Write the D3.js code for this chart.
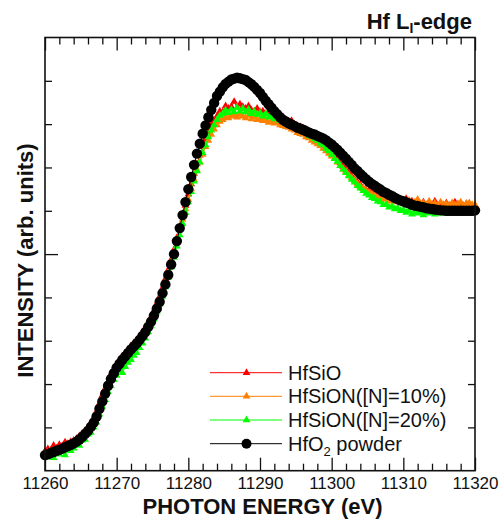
<!DOCTYPE html>
<html>
<head>
<meta charset="utf-8">
<script src="https://cdn.jsdelivr.net/npm/d3@7"></script>
<style>
  body { margin: 0; background: #fff; }
  svg { font-family: "Liberation Sans", Arial, sans-serif; }
</style>
</head>
<body>
<svg id="chart" width="502" height="521"></svg>
<script>
// scan energies (eV), 0.4 eV steps
const energy = [
  11260,11260.4,11260.8,11261.2,11261.6, 11262,11262.4,11262.8,11263.2,11263.6,
  11264,11264.4,11264.8,11265.2,11265.6, 11266,11266.4,11266.8,11267.2,11267.6,
  11268,11268.4,11268.8,11269.2,11269.6, 11270,11270.4,11270.8,11271.2,11271.6,
  11272,11272.4,11272.8,11273.2,11273.6, 11274,11274.4,11274.8,11275.2,11275.6,
  11276,11276.4,11276.8,11277.2,11277.6, 11278,11278.4,11278.8,11279.2,11279.6,
  11280,11280.4,11280.8,11281.2,11281.6, 11282,11282.4,11282.8,11283.2,11283.6,
  11284,11284.4,11284.8,11285.2,11285.6, 11286,11286.4,11286.8,11287.2,11287.6,
  11288,11288.4,11288.8,11289.2,11289.6, 11290,11290.4,11290.8,11291.2,11291.6,
  11292,11292.4,11292.8,11293.2,11293.6, 11294,11294.4,11294.8,11295.2,11295.6,
  11296,11296.4,11296.8,11297.2,11297.6, 11298,11298.4,11298.8,11299.2,11299.6,
  11300,11300.4,11300.8,11301.2,11301.6, 11302,11302.4,11302.8,11303.2,11303.6,
  11304,11304.4,11304.8,11305.2,11305.6, 11306,11306.4,11306.8,11307.2,11307.6,
  11308,11308.4,11308.8,11309.2,11309.6, 11310,11310.4,11310.8,11311.2,11311.6,
  11312,11312.4,11312.8,11313.2,11313.6, 11314,11314.4,11314.8,11315.2,11315.6,
  11316,11316.4,11316.8,11317.2,11317.6, 11318,11318.4,11318.8,11319.2,11319.6,
  11320
];

const hfsio = [
  0.45,0.50,0.47,0.58,0.52, 0.60,0.57,0.66,0.62,0.67,
  0.70,0.74,0.80,0.86,0.92, 1.00,1.10,1.22,1.36,1.55,
  1.74,1.90,2.06,2.22,2.34, 2.46,2.56,2.64,2.72,2.80,
  2.88,2.95,3.02,3.10,3.20, 3.30,3.42,3.55,3.70,3.86,
  4.02,4.22,4.43,4.64,4.87, 5.10,5.38,5.64,5.88,6.12,
  6.38,6.62,6.86,7.08,7.28, 7.48,7.66,7.82,7.98,8.08,
  8.18,8.30,8.28,8.42,8.36, 8.40,8.52,8.38,8.46,8.40,
  8.36,8.42,8.32,8.30,8.36, 8.28,8.30,8.24,8.26,8.22,
  8.20,8.24,8.16,8.14,8.10, 8.06,8.08,8.00,7.96,7.94,
  7.90,7.88,7.82,7.80,7.74, 7.70,7.66,7.58,7.54,7.46,
  7.36,7.28,7.20,7.10,7.02, 6.94,6.88,6.80,6.72,6.66,
  6.60,6.52,6.48,6.46,6.42, 6.40,6.34,6.36,6.30,6.28,
  6.26,6.30,6.22,6.24,6.20, 6.20,6.28,6.18,6.22,6.16,
  6.18,6.14,6.20,6.12,6.16, 6.14,6.22,6.12,6.16,6.10,
  6.18,6.12,6.14,6.20,6.12, 6.14,6.10,6.16,6.12,6.10,
  6.12
];

const hfsion10 = [
  0.38,0.42,0.40,0.46,0.48, 0.52,0.50,0.58,0.56,0.62,
  0.66,0.70,0.74,0.82,0.88, 0.96,1.06,1.18,1.32,1.50,
  1.68,1.86,2.02,2.18,2.30, 2.42,2.52,2.60,2.68,2.76,
  2.84,2.92,2.98,3.06,3.16, 3.26,3.38,3.50,3.64,3.80,
  3.96,4.16,4.36,4.58,4.82, 5.04,5.30,5.56,5.80,6.04,
  6.26,6.50,6.72,6.94,7.12, 7.30,7.48,7.62,7.76,7.88,
  7.98,8.06,8.10,8.16,8.14, 8.18,8.20,8.16,8.22,8.18,
  8.14,8.20,8.12,8.16,8.10, 8.12,8.08,8.10,8.04,8.06,
  8.02,8.04,7.98,7.96,7.94, 7.92,7.88,7.86,7.80,7.78,
  7.76,7.70,7.68,7.62,7.58, 7.54,7.50,7.44,7.38,7.32,
  7.26,7.20,7.12,7.04,6.96, 6.90,6.82,6.76,6.70,6.62,
  6.56,6.52,6.46,6.42,6.38, 6.36,6.32,6.30,6.26,6.28,
  6.22,6.26,6.20,6.24,6.18, 6.22,6.16,6.24,6.14,6.20,
  6.26,6.16,6.18,6.14,6.22, 6.14,6.18,6.12,6.20,6.14,
  6.16,6.12,6.18,6.14,6.16, 6.20,6.12,6.16,6.18,6.14,
  6.14
];

const hfsion20 = [
  0.40,0.34,0.44,0.30,0.42, 0.38,0.50,0.36,0.54,0.46,
  0.52,0.60,0.58,0.70,0.72, 0.84,0.88,1.00,1.12,1.30,
  1.48,1.64,1.82,1.96,2.10, 2.20,2.30,2.26,2.40,2.50,
  2.56,2.66,2.72,2.84,2.94, 3.06,3.20,3.34,3.50,3.66,
  3.84,4.02,4.24,4.46,4.70, 4.92,5.18,5.44,5.70,5.96,
  6.20,6.44,6.68,6.92,7.12, 7.34,7.52,7.70,7.86,7.98,
  8.10,8.20,8.24,8.32,8.26, 8.34,8.28,8.38,8.30,8.36,
  8.28,8.34,8.24,8.30,8.22, 8.26,8.18,8.24,8.16,8.20,
  8.12,8.16,8.08,8.10,8.02, 8.00,7.96,7.94,7.88,7.88,
  7.82,7.80,7.74,7.72,7.66, 7.62,7.56,7.52,7.44,7.38,
  7.30,7.20,7.14,7.04,6.96, 6.88,6.80,6.72,6.66,6.58,
  6.52,6.46,6.40,6.36,6.30, 6.28,6.22,6.20,6.14,6.14,
  6.08,6.10,6.04,6.06,6.00, 6.02,5.96,6.00,5.92,5.98,
  5.94,5.98,5.90,5.96,5.94, 5.98,5.92,5.96,5.94,5.98,
  5.94,5.98,5.96,6.00,5.96, 5.98,6.00,5.96,6.00,5.98,
  6.00
];

const hfo2 = [
  0.36,0.38,0.41,0.43,0.46, 0.48,0.51,0.54,0.57,0.60,
  0.63,0.67,0.72,0.78,0.85, 0.92,1.01,1.11,1.25,1.43,
  1.60,1.78,1.96,2.12,2.25, 2.38,2.47,2.56,2.64,2.72,
  2.80,2.87,2.94,3.02,3.11, 3.20,3.32,3.44,3.58,3.74,
  3.90,4.10,4.30,4.52,4.76, 5.00,5.30,5.60,5.90,6.20,
  6.50,6.78,7.06,7.32,7.55, 7.78,7.97,8.16,8.33,8.49,
  8.65,8.75,8.85,8.93,8.98, 9.03,9.05,9.07,9.06,9.04,
  9.02,8.97,8.92,8.86,8.79, 8.72,8.63,8.54,8.46,8.38,
  8.30,8.23,8.16,8.10,8.06, 8.02,7.99,7.96,7.92,7.90,
  7.87,7.84,7.81,7.78,7.76, 7.73,7.70,7.67,7.63,7.58,
  7.53,7.47,7.41,7.34,7.27, 7.20,7.13,7.06,6.98,6.92,
  6.85,6.79,6.73,6.67,6.62, 6.58,6.53,6.49,6.44,6.41,
  6.37,6.34,6.30,6.27,6.24, 6.22,6.19,6.17,6.14,6.12,
  6.11,6.09,6.08,6.06,6.05, 6.04,6.03,6.02,6.01,6.01,
  6.00,6.00,6.00,6.00,6.00, 6.00,6.00,6.00,6.00,6.00,
  6.01
];

const seriesNames = ["HfSiO", "HfSiON([N]=10%)", "HfSiON([N]=20%)", "HfO2 powder"];
const seriesColors = ["#ff0000", "#ff8000", "#00ff00", "#000000"];
const xMajorTicks = [11260, 11270, 11280, 11290, 11300, 11310, 11320];
const yTicks = [1, 2, 3, 4, 5, 6, 7, 8, 9];

const svg = d3.select("#chart");
const mLeft = 45, mRight = 475, mTop = 37.5, mBottom = 470.7;

const x = d3.scaleLinear().domain([11260, 11320]).range([mLeft, mRight]);
const y = d3.scaleLinear().domain([0, 10]).range([mBottom, mTop]);

// axes (ticks point inward, frame drawn separately)
function strip(g) { g.select(".domain").remove(); }
const xMinor = d3.range(11260, 11321, 2).filter(v => (v - 11260) % 10 !== 0);

svg.append("g").attr("transform", `translate(0,${mBottom})`)
  .call(d3.axisBottom(x).tickValues(xMajorTicks).tickSize(-13).tickPadding(6).tickFormat(d3.format("d")))
  .call(strip)
  .call(g => g.selectAll("text").attr("font-size", 17).attr("fill", "#111")
    .attr("font-family", "Liberation Sans, Arial, sans-serif"));
svg.append("g").attr("transform", `translate(0,${mBottom})`)
  .call(d3.axisBottom(x).tickValues(xMinor).tickSize(-7).tickFormat(""))
  .call(strip);
svg.append("g").attr("transform", `translate(0,${mTop})`)
  .call(d3.axisTop(x).tickValues(xMajorTicks).tickSize(-13).tickFormat(""))
  .call(strip);
svg.append("g").attr("transform", `translate(0,${mTop})`)
  .call(d3.axisTop(x).tickValues(xMinor).tickSize(-7).tickFormat(""))
  .call(strip);

const yMinor = yTicks.filter(v => v !== 5);
[[d3.axisLeft, mLeft], [d3.axisRight, mRight]].forEach(([ax, pos]) => {
  svg.append("g").attr("transform", `translate(${pos},0)`)
    .call(ax(y).tickValues(yMinor).tickSize(-7).tickFormat(""))
    .call(strip);
  svg.append("g").attr("transform", `translate(${pos},0)`)
    .call(ax(y).tickValues([5]).tickSize(-13).tickFormat(""))
    .call(strip);
});
svg.selectAll(".tick line").attr("stroke", "#111").attr("stroke-width", 1.3);

// data
const allSeries = [hfsio, hfsion10, hfsion20, hfo2];
const line = d3.line().x((d, i) => x(energy[i])).y(d => y(d));
const tri = d3.symbol().type(d3.symbolTriangle).size(26);

allSeries.forEach((vals, k) => {
  const g = svg.append("g");
  g.append("path").datum(vals).attr("d", line)
    .attr("fill", "none").attr("stroke", seriesColors[k]).attr("stroke-width", 1);
  if (k < 3) {
    g.selectAll("path.m").data(vals).join("path").attr("class", "m")
      .attr("d", tri)
      .attr("transform", (d, i) => `translate(${x(energy[i])},${y(d)})`)
      .attr("fill", seriesColors[k]);
  } else {
    g.selectAll("circle").data(vals).join("circle")
      .attr("cx", (d, i) => x(energy[i])).attr("cy", d => y(d))
      .attr("r", 5.2).attr("fill", "#000");
  }
});

// frame
svg.append("rect").attr("x", mLeft).attr("y", mTop)
  .attr("width", mRight - mLeft).attr("height", mBottom - mTop)
  .attr("fill", "none").attr("stroke", "#111").attr("stroke-width", 1.6);

// legend
const legY = [372.7, 396.3, 420, 443.7];
seriesNames.forEach((name, k) => {
  const g = svg.append("g").attr("transform", `translate(0,${legY[k]})`);
  g.append("line").attr("x1", 210).attr("x2", 282).attr("y1", 0).attr("y2", 0)
    .attr("stroke", seriesColors[k]).attr("stroke-width", 1);
  if (k < 3) {
    g.append("path").attr("d", tri).attr("transform", "translate(246.5,0)").attr("fill", seriesColors[k]);
  } else {
    g.append("circle").attr("cx", 246.5).attr("cy", 0).attr("r", 5).attr("fill", "#000");
  }
  const t = g.append("text").attr("x", 288).attr("y", 7).attr("font-size", 20).attr("fill", "#111");
  if (name === "HfO2 powder") {
    t.append("tspan").text("HfO");
    t.append("tspan").attr("font-size", 13).attr("dy", 5).text("2");
    t.append("tspan").attr("dy", -5).text(" powder");
  } else {
    t.text(name);
  }
});

// titles
const title = svg.append("text").attr("x", 472).attr("y", 29).attr("text-anchor", "end")
  .attr("font-size", 22).attr("font-weight", "bold").attr("fill", "#111");
title.append("tspan").text("Hf L");
title.append("tspan").attr("font-size", 14).attr("dy", 4).text("I");
title.append("tspan").attr("dy", -4).text("-edge");

svg.append("text").attr("x", 262.5).attr("y", 514).attr("text-anchor", "middle")
  .attr("font-size", 22).attr("font-weight", "bold").attr("fill", "#111")
  .text("PHOTON ENERGY (eV)");

svg.append("text").attr("transform", "translate(33,260.5) rotate(-90)").attr("text-anchor", "middle")
  .attr("font-size", 22).attr("font-weight", "bold").attr("fill", "#111")
  .text("INTENSITY (arb. units)");
</script>
</body>
</html>
